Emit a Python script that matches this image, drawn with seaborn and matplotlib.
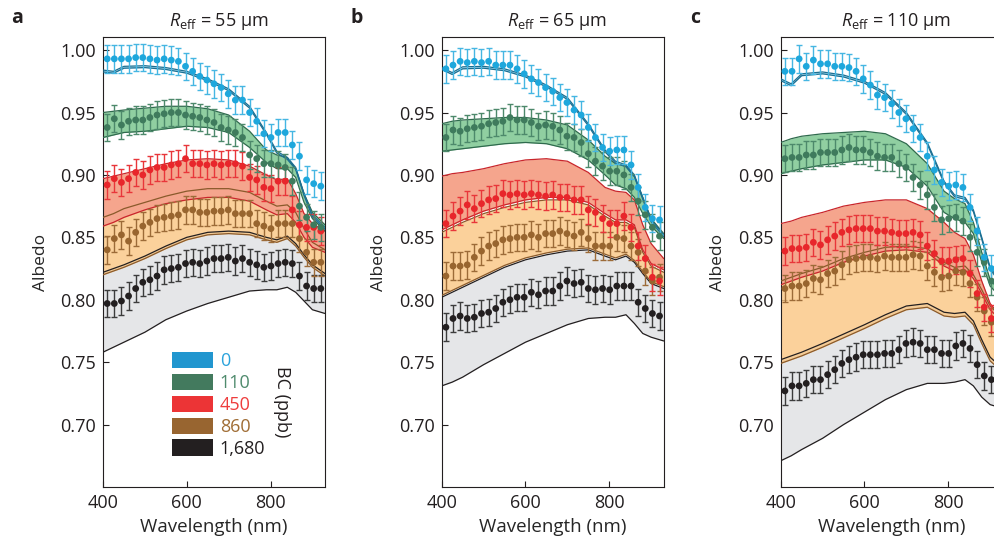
import matplotlib
matplotlib.use('Agg')
import matplotlib.pyplot as plt
import seaborn as sns
from matplotlib.patches import Patch

# wavelength grids (nm)
wl_obs = [410, 427, 444, 461, 478, 495, 512, 529, 546, 563, 580, 597, 614, 631, 648, 665,
          682, 699, 716, 733, 750, 767, 784, 801, 818, 835, 852, 869, 886, 903, 920]
wl_mod = [400, 425, 450, 500, 550, 600, 650, 700, 750, 790, 815, 840, 860, 880, 900, 930]

bc_labels = ['0', '110', '450', '860', '1,680']
reff_labels = ['55', '65', '110']
panel_letters = ['a', 'b', 'c']
obs_err = 0.011

# ---- panel a: measured albedo
a_obs_0 = [0.993, 0.993, 0.993, 0.993, 0.994, 0.994, 0.993, 0.992, 0.993, 0.992, 0.991, 0.987, 0.983, 0.979, 0.976, 0.973,
           0.970, 0.965, 0.960, 0.960, 0.950, 0.943, 0.933, 0.930, 0.934, 0.934, 0.924, 0.915, 0.896, 0.893, 0.891]
a_obs_110 = [0.938, 0.945, 0.940, 0.943, 0.944, 0.944, 0.946, 0.948, 0.949, 0.950, 0.950, 0.948, 0.947, 0.946, 0.944, 0.942,
             0.938, 0.936, 0.934, 0.930, 0.916, 0.913, 0.909, 0.909, 0.908, 0.906, 0.895, 0.875, 0.866, 0.860, 0.858]
a_obs_450 = [0.892, 0.897, 0.894, 0.897, 0.902, 0.900, 0.904, 0.906, 0.906, 0.908, 0.909, 0.913, 0.909, 0.909, 0.908, 0.909,
             0.908, 0.909, 0.909, 0.907, 0.898, 0.896, 0.890, 0.889, 0.895, 0.895, 0.872, 0.860, 0.858, 0.858, 0.855]
a_obs_860 = [0.840, 0.849, 0.852, 0.847, 0.854, 0.859, 0.862, 0.865, 0.866, 0.867, 0.868, 0.872, 0.872, 0.870, 0.870, 0.871,
             0.871, 0.872, 0.869, 0.869, 0.869, 0.861, 0.859, 0.857, 0.861, 0.861, 0.861, 0.849, 0.838, 0.830, 0.830]
a_obs_1680 = [0.797, 0.797, 0.799, 0.803, 0.809, 0.814, 0.816, 0.819, 0.824, 0.825, 0.826, 0.829, 0.830, 0.829, 0.831, 0.833,
              0.833, 0.834, 0.831, 0.833, 0.830, 0.828, 0.826, 0.827, 0.829, 0.830, 0.829, 0.819, 0.811, 0.809, 0.809]

# ---- panel a: model range (upper / lower)
a_hi_0 = [0.984, 0.983, 0.987, 0.9875, 0.986, 0.983, 0.977, 0.969, 0.955, 0.934, 0.919, 0.914, 0.906, 0.885, 0.868, 0.858]
a_lo_0 = [0.9825, 0.9815, 0.9855, 0.986, 0.9845, 0.9815, 0.9755, 0.9675, 0.9535, 0.9325, 0.9175, 0.9125, 0.9045, 0.8835, 0.8665, 0.8565]
a_hi_110 = [0.950, 0.951, 0.952, 0.9535, 0.955, 0.955, 0.953, 0.948, 0.935, 0.920, 0.916, 0.914, 0.905, 0.885, 0.870, 0.860]
a_lo_110 = [0.930, 0.932, 0.934, 0.935, 0.937, 0.939, 0.938, 0.934, 0.922, 0.910, 0.905, 0.905, 0.898, 0.878, 0.865, 0.855]
a_hi_450 = [0.897, 0.899, 0.901, 0.905, 0.909, 0.912, 0.913, 0.912, 0.907, 0.900, 0.896, 0.897, 0.885, 0.869, 0.861, 0.855]
a_lo_450 = [0.859, 0.862, 0.866, 0.872, 0.877, 0.880, 0.882, 0.882, 0.879, 0.872, 0.868, 0.869, 0.862, 0.850, 0.842, 0.838]
a_hi_860 = [0.866, 0.869, 0.873, 0.878, 0.883, 0.887, 0.889, 0.889, 0.886, 0.879, 0.875, 0.876, 0.870, 0.857, 0.846, 0.840]
a_lo_860 = [0.820, 0.823, 0.826, 0.833, 0.841, 0.848, 0.852, 0.853, 0.852, 0.848, 0.846, 0.849, 0.843, 0.834, 0.826, 0.819]
a_hi_1680 = [0.822, 0.825, 0.828, 0.835, 0.843, 0.850, 0.854, 0.855, 0.854, 0.850, 0.848, 0.851, 0.845, 0.836, 0.828, 0.821]
a_lo_1680 = [0.758, 0.762, 0.766, 0.774, 0.784, 0.791, 0.797, 0.802, 0.807, 0.808, 0.808, 0.810, 0.806, 0.799, 0.792, 0.789]

# ---- panel b: measured albedo
b_obs_0 = [0.985, 0.988, 0.991, 0.990, 0.991, 0.990, 0.991, 0.988, 0.988, 0.988, 0.985, 0.981, 0.977, 0.974, 0.970, 0.967,
           0.962, 0.958, 0.952, 0.948, 0.938, 0.930, 0.922, 0.919, 0.920, 0.920, 0.908, 0.890, 0.874, 0.865, 0.864]
b_obs_110 = [0.930, 0.936, 0.935, 0.937, 0.938, 0.939, 0.941, 0.942, 0.943, 0.946, 0.944, 0.944, 0.942, 0.939, 0.940, 0.939,
             0.936, 0.931, 0.930, 0.926, 0.917, 0.911, 0.907, 0.903, 0.903, 0.900, 0.890, 0.879, 0.868, 0.858, 0.851]
b_obs_450 = [0.861, 0.867, 0.871, 0.876, 0.873, 0.877, 0.880, 0.881, 0.885, 0.884, 0.885, 0.884, 0.885, 0.884, 0.883, 0.884,
             0.882, 0.882, 0.880, 0.880, 0.872, 0.870, 0.865, 0.861, 0.861, 0.867, 0.858, 0.843, 0.833, 0.818, 0.815]
b_obs_860 = [0.819, 0.827, 0.827, 0.828, 0.834, 0.839, 0.843, 0.845, 0.848, 0.849, 0.850, 0.850, 0.852, 0.850, 0.853, 0.853,
             0.855, 0.853, 0.851, 0.854, 0.849, 0.843, 0.843, 0.843, 0.850, 0.849, 0.843, 0.838, 0.823, 0.815, 0.818]
b_obs_1680 = [0.778, 0.785, 0.787, 0.785, 0.786, 0.789, 0.790, 0.793, 0.798, 0.800, 0.802, 0.802, 0.806, 0.804, 0.807, 0.807,
              0.811, 0.815, 0.813, 0.814, 0.809, 0.808, 0.809, 0.808, 0.811, 0.811, 0.811, 0.798, 0.793, 0.789, 0.787]

# ---- panel b: model range
b_hi_0 = [0.986, 0.982, 0.9866, 0.987, 0.985, 0.980, 0.972, 0.962, 0.941, 0.920, 0.911, 0.908, 0.900, 0.882, 0.864, 0.852]
b_lo_0 = [0.9845, 0.9805, 0.985, 0.9855, 0.9835, 0.9785, 0.9705, 0.9605, 0.9395, 0.9185, 0.9095, 0.9065, 0.8985, 0.8805, 0.8625, 0.8505]
b_hi_110 = [0.941, 0.943, 0.944, 0.945, 0.946, 0.946, 0.944, 0.940, 0.928, 0.915, 0.909, 0.907, 0.899, 0.882, 0.865, 0.853]
b_lo_110 = [0.919, 0.920, 0.921, 0.923, 0.925, 0.926, 0.925, 0.921, 0.912, 0.900, 0.892, 0.889, 0.882, 0.869, 0.859, 0.849]
b_hi_450 = [0.899, 0.901, 0.902, 0.905, 0.909, 0.912, 0.913, 0.911, 0.902, 0.890, 0.887, 0.886, 0.880, 0.860, 0.845, 0.833]
b_lo_450 = [0.856, 0.860, 0.864, 0.871, 0.876, 0.880, 0.882, 0.882, 0.878, 0.869, 0.864, 0.864, 0.860, 0.840, 0.829, 0.824]
b_hi_860 = [0.854, 0.858, 0.862, 0.869, 0.874, 0.878, 0.880, 0.880, 0.876, 0.867, 0.862, 0.862, 0.858, 0.838, 0.827, 0.822]
b_lo_860 = [0.8035, 0.8075, 0.8115, 0.8195, 0.8275, 0.8335, 0.8375, 0.8405, 0.8415, 0.8365, 0.8335, 0.8365, 0.8315, 0.8225, 0.8145, 0.8105]
b_hi_1680 = [0.802, 0.806, 0.810, 0.818, 0.826, 0.832, 0.836, 0.839, 0.840, 0.835, 0.832, 0.835, 0.830, 0.821, 0.813, 0.809]
b_lo_1680 = [0.731, 0.734, 0.738, 0.748, 0.757, 0.766, 0.773, 0.780, 0.785, 0.786, 0.786, 0.788, 0.781, 0.773, 0.770, 0.767]

# ---- panel c: measured albedo
c_obs_0 = [0.983, 0.983, 0.993, 0.987, 0.992, 0.989, 0.989, 0.987, 0.987, 0.986, 0.983, 0.977, 0.972, 0.964, 0.962, 0.957,
           0.950, 0.945, 0.937, 0.930, 0.915, 0.904, 0.894, 0.891, 0.892, 0.890, 0.874, 0.855, 0.834, 0.825, 0.820]
c_obs_110 = [0.913, 0.914, 0.914, 0.916, 0.916, 0.918, 0.918, 0.918, 0.920, 0.922, 0.920, 0.920, 0.918, 0.915, 0.914, 0.914,
             0.909, 0.906, 0.898, 0.892, 0.884, 0.874, 0.864, 0.865, 0.866, 0.863, 0.850, 0.838, 0.830, 0.815, 0.810]
c_obs_450 = [0.839, 0.841, 0.841, 0.842, 0.846, 0.844, 0.848, 0.851, 0.854, 0.856, 0.857, 0.857, 0.857, 0.855, 0.855, 0.854,
             0.853, 0.853, 0.854, 0.852, 0.843, 0.837, 0.831, 0.831, 0.832, 0.833, 0.821, 0.805, 0.794, 0.785, 0.780]
c_obs_860 = [0.809, 0.811, 0.811, 0.813, 0.817, 0.816, 0.821, 0.823, 0.828, 0.832, 0.833, 0.834, 0.834, 0.833, 0.835, 0.834,
             0.834, 0.834, 0.836, 0.835, 0.827, 0.822, 0.818, 0.819, 0.823, 0.822, 0.813, 0.802, 0.791, 0.782, 0.778]
c_obs_1680 = [0.727, 0.731, 0.731, 0.733, 0.736, 0.736, 0.740, 0.744, 0.749, 0.752, 0.754, 0.756, 0.756, 0.756, 0.757, 0.757,
              0.760, 0.765, 0.766, 0.765, 0.760, 0.760, 0.757, 0.757, 0.763, 0.765, 0.761, 0.748, 0.739, 0.736, 0.733]

# ---- panel c: model range
c_hi_0 = [0.977, 0.973, 0.981, 0.9825, 0.980, 0.975, 0.966, 0.950, 0.926, 0.895, 0.884, 0.882, 0.872, 0.850, 0.826, 0.812]
c_lo_0 = [0.9755, 0.9715, 0.9795, 0.981, 0.9785, 0.9735, 0.9645, 0.9485, 0.9245, 0.8935, 0.8825, 0.8805, 0.8705, 0.8485, 0.8245, 0.8105]
c_hi_110 = [0.926, 0.929, 0.931, 0.933, 0.934, 0.935, 0.933, 0.925, 0.909, 0.887, 0.881, 0.877, 0.862, 0.838, 0.816, 0.805]
c_lo_110 = [0.901, 0.903, 0.905, 0.908, 0.910, 0.912, 0.912, 0.906, 0.891, 0.870, 0.865, 0.862, 0.853, 0.830, 0.811, 0.800]
c_hi_450 = [0.861, 0.863, 0.866, 0.870, 0.875, 0.878, 0.880, 0.880, 0.873, 0.862, 0.854, 0.849, 0.836, 0.815, 0.797, 0.785]
c_lo_450 = [0.812, 0.815, 0.818, 0.823, 0.830, 0.835, 0.839, 0.840, 0.838, 0.827, 0.823, 0.824, 0.817, 0.805, 0.792, 0.782]
c_hi_860 = [0.815, 0.818, 0.821, 0.826, 0.833, 0.838, 0.842, 0.843, 0.841, 0.830, 0.826, 0.827, 0.820, 0.808, 0.795, 0.785]
c_lo_860 = [0.749, 0.752, 0.755, 0.762, 0.7695, 0.777, 0.785, 0.792, 0.794, 0.787, 0.786, 0.787, 0.780, 0.765, 0.751, 0.742]
c_hi_1680 = [0.752, 0.755, 0.758, 0.765, 0.7725, 0.780, 0.788, 0.795, 0.797, 0.790, 0.789, 0.790, 0.783, 0.768, 0.754, 0.745]
c_lo_1680 = [0.671, 0.675, 0.680, 0.689, 0.700, 0.710, 0.720, 0.728, 0.733, 0.733, 0.734, 0.736, 0.731, 0.722, 0.716, 0.713]

# colours per BC level: dots, error bars, band fill, band edge, legend swatch, legend text
dot_colors = ['#1ea7dc', '#3f7b5d', '#e8262b', '#98652f', '#231f20']
err_colors = ['#45b6e2', '#4d896b', '#e8363a', '#9c6b38', '#3c3c3c']
fill_colors = ['#a9dcf1', '#90cfa1', '#f5a58d', '#fac682', '#e5e6e8']
fill_alpha = [1.0, 1.0, 1.0, 0.8, 1.0]
edge_colors = ['#1b6f92', '#2f6a4d', '#c9262b', '#8a5a2b', '#231f20']
swatch_colors = ['#2196cf', '#437a5e', '#ec3436', '#986530', '#231f20']
label_colors = ['#2ba3dc', '#4f8b6d', '#ee3d3d', '#a06d35', '#231f20']

panels = [
    ([a_obs_0, a_obs_110, a_obs_450, a_obs_860, a_obs_1680],
     [a_hi_0, a_hi_110, a_hi_450, a_hi_860, a_hi_1680],
     [a_lo_0, a_lo_110, a_lo_450, a_lo_860, a_lo_1680]),
    ([b_obs_0, b_obs_110, b_obs_450, b_obs_860, b_obs_1680],
     [b_hi_0, b_hi_110, b_hi_450, b_hi_860, b_hi_1680],
     [b_lo_0, b_lo_110, b_lo_450, b_lo_860, b_lo_1680]),
    ([c_obs_0, c_obs_110, c_obs_450, c_obs_860, c_obs_1680],
     [c_hi_0, c_hi_110, c_hi_450, c_hi_860, c_hi_1680],
     [c_lo_0, c_lo_110, c_lo_450, c_lo_860, c_lo_1680]),
]

sns.set_style('ticks')
plt.rcParams['font.family'] = ['Open Sans', 'DejaVu Sans']
plt.rcParams['mathtext.fontset'] = 'custom'
plt.rcParams['mathtext.rm'] = 'Open Sans'
plt.rcParams['mathtext.it'] = 'Open Sans:italic'
plt.rcParams['text.color'] = '#231f20'

W, H = 994, 538
fig = plt.figure(figsize=(W / 100, H / 100), dpi=100)
lefts = [103, 441.7, 780.7]

for k, (obs, hi, lo) in enumerate(panels):
    ax = fig.add_axes([lefts[k] / W, 51 / H, 222 / W, 450 / H])

    # model bands: gray (1,680) at the bottom up to blue (0) on top
    for i in [4, 2, 3, 1, 0]:
        ax.fill_between(wl_mod, lo[i], hi[i], color=fill_colors[i], alpha=fill_alpha[i],
                        lw=0, zorder=1 + (4 - i) * 0.1)
    for i in [4, 3, 2, 1, 0]:
        for edge in (hi[i], lo[i]):
            sns.lineplot(x=wl_mod, y=edge, color=edge_colors[i], lw=0.9, ax=ax, zorder=3)

    # measurements with error bars
    for i in [4, 3, 2, 1, 0]:
        ax.errorbar(wl_obs, obs[i], yerr=obs_err, fmt='none', ecolor=err_colors[i],
                    elinewidth=1.0, capsize=2.3, capthick=1.0, zorder=5)
        sns.scatterplot(x=wl_obs, y=obs[i], color=dot_colors[i], s=24, edgecolor='none',
                        ax=ax, zorder=6)

    ax.set_xlim(400, 930)
    ax.set_ylim(0.65, 1.0105)
    ax.set_xticks([400, 600, 800])
    ax.set_yticks([0.70, 0.75, 0.80, 0.85, 0.90, 0.95, 1.00])
    ax.set_yticklabels([f'{v:.2f}' for v in [0.70, 0.75, 0.80, 0.85, 0.90, 0.95, 1.00]])
    ax.tick_params(direction='in', length=4, width=0.8, labelsize=13, colors='#231f20',
                   top=False, right=False, pad=5)
    for sp in ax.spines.values():
        sp.set_visible(True)
        sp.set_linewidth(0.8)
        sp.set_color('#231f20')

    ax.set_xlabel('Wavelength (nm)', fontsize=13.5)
    ax.xaxis.set_label_coords(0.5, -0.068)
    ax.set_ylabel('Albedo', fontsize=12.5)
    ax.yaxis.set_label_coords(-0.245, 0.5)

    ax.text(0.52, 1.035, r'$R_{\mathrm{eff}}$' + f' = {reff_labels[k]} μm', transform=ax.transAxes,
            ha='center', va='center', fontsize=13)
    ax.text(-0.385, 1.042, panel_letters[k], transform=ax.transAxes, ha='center', va='center',
            fontsize=14, fontweight='bold')

    if k == 0:
        handles = [Patch(facecolor=c, edgecolor='none') for c in swatch_colors]
        leg = ax.legend(handles, bc_labels, loc='upper left', bbox_to_anchor=(0.31, 0.30),
                        frameon=False, fontsize=13, handlelength=2.3, handleheight=1.0,
                        labelspacing=0.2, handletextpad=0.35, borderpad=0, borderaxespad=0)
        for t, c in zip(leg.get_texts(), label_colors):
            t.set_color(c)
        ax.text(0.806, 0.19, 'BC (ppb)', rotation=-90, transform=ax.transAxes,
                ha='center', va='center', fontsize=13)

fig.savefig('out.png', dpi=100)
